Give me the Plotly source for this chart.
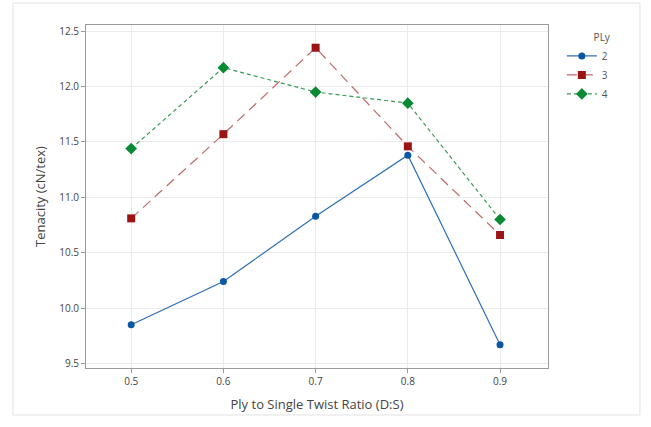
import plotly.graph_objects as go

ratio = [0.5, 0.6, 0.7, 0.8, 0.9]
ply2 = [9.85, 10.24, 10.83, 11.38, 9.67]
ply3 = [10.81, 11.57, 12.35, 11.46, 10.66]
ply4 = [11.44, 12.17, 11.95, 11.85, 10.80]
y_ticks = [9.5, 10.0, 10.5, 11.0, 11.5, 12.0, 12.5]
x_ticks = [0.5, 0.6, 0.7, 0.8, 0.9]

fig = go.Figure()
fig.add_trace(go.Scatter(x=ratio, y=ply2, name="2", mode="lines+markers",
                         line=dict(color="#2f6fb5", width=1.2),
                         marker=dict(symbol="circle", size=7, color="#0b57a4")))
fig.add_trace(go.Scatter(x=ratio, y=ply3, name="3", mode="lines+markers",
                         line=dict(color="#c06a6a", width=1.2, dash="10px,6px"),
                         marker=dict(symbol="square", size=8, color="#9b1414")))
fig.add_trace(go.Scatter(x=ratio, y=ply4, name="4", mode="lines+markers",
                         line=dict(color="#3a9a55", width=1.2, dash="4px,3px"),
                         marker=dict(symbol="diamond", size=9, color="#0a8a35")))

fig.update_layout(
    width=651, height=427,
    margin=dict(l=86, r=103, t=25, b=59),
    paper_bgcolor="white", plot_bgcolor="white",
    font=dict(family="Open Sans, sans-serif", color="#444"),
    showlegend=True,
    legend=dict(x=1.03, y=0.99, xanchor="left", yanchor="top",
                title=dict(text="PLy", side="top right", font=dict(size=10, color="#555")),
                font=dict(size=10, color="#555"), tracegroupgap=0,
                itemwidth=30, bgcolor="rgba(0,0,0,0)"),
    xaxis=dict(range=[0.451, 0.952], tickvals=x_ticks, ticktext=[f"{v:.1f}" for v in x_ticks],
               showgrid=True, gridcolor="#ebebeb", gridwidth=1,
               showline=True, linecolor="#9a9a9a", linewidth=1, mirror=True,
               ticks="outside", ticklen=4, tickcolor="#9a9a9a",
               tickfont=dict(size=10, color="#444"), zeroline=False,
               title=dict(text="Ply to Single Twist Ratio (D:S)", font=dict(size=13, color="#444"), standoff=12)),
    yaxis=dict(range=[9.46, 12.555], tickvals=y_ticks, ticktext=[f"{v:.1f}" for v in y_ticks],
               showgrid=True, gridcolor="#ebebeb", gridwidth=1,
               showline=True, linecolor="#9a9a9a", linewidth=1, mirror=True,
               ticks="outside", ticklen=4, tickcolor="#9a9a9a",
               tickfont=dict(size=10, color="#444"), zeroline=False,
               title=dict(text="Tenacity (cN/tex)", font=dict(size=13, color="#444"), standoff=10)),
)
fig.add_shape(type="rect", xref="paper", yref="paper",
              x0=-0.158, x1=1.199, y0=-0.137, y1=1.064,
              line=dict(color="#e2e2e2", width=1), fillcolor="rgba(0,0,0,0)", layer="below")

fig.write_html("out.html")
